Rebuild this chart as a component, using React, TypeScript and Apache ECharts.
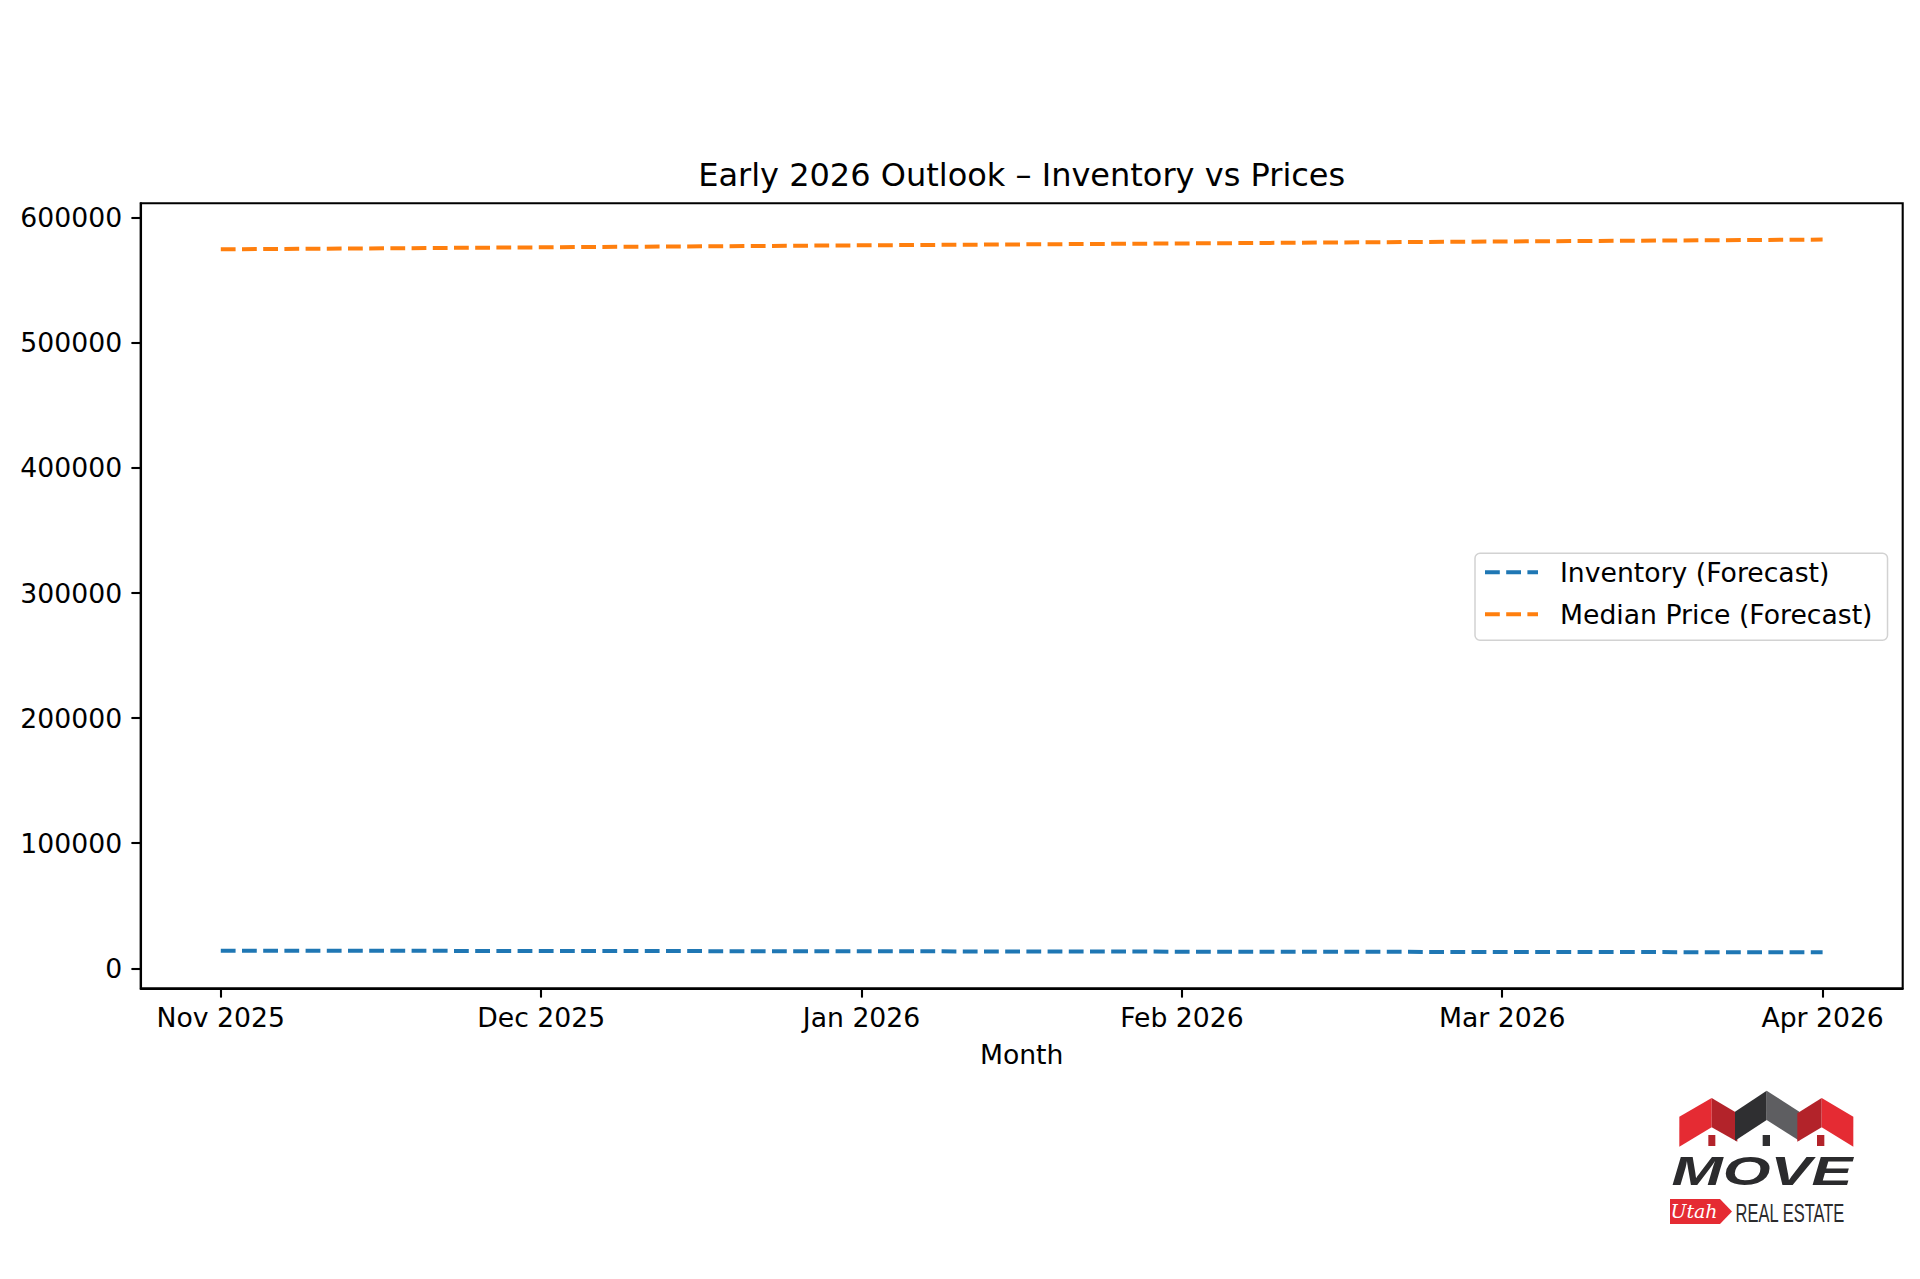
import React, { useEffect, useRef } from "react";
import * as echarts from "echarts";

const months = ["Nov 2025", "Dec 2025", "Jan 2026", "Feb 2026", "Mar 2026", "Apr 2026"];
const inventory = [14100, 13850, 13600, 13300, 13050, 12800];
const medianPrice = [574800, 576400, 578000, 579500, 581100, 582600];
const yTicks = [0, 100000, 200000, 300000, 400000, 500000, 600000];
const seriesNames = ["Inventory (Forecast)", "Median Price (Forecast)"];
const titleText = "Early 2026 Outlook – Inventory vs Prices";

const FONT = "DejaVu Sans";
const BLUE = "#1f77b4";
const ORANGE = "#ff7f0e";
const DASH_ICON = "path://M0,0h14.8v4h-14.8z M21.2,0h14.8v4h-14.8z M42.4,0h10.6v4h-10.6z";

function logoElements(): any[] {
  const ox = 1640;
  const oy = 1070;
  const p = (pts: number[][]) => pts.map(([x, y]) => [ox + x / 3, oy + y / 3]);
  const poly = (pts: number[][], fill: string) => ({
    type: "polygon",
    shape: { points: p(pts) },
    style: { fill },
    silent: true,
  });
  const rect = (x0: number, y0: number, x1: number, y1: number, fill: string) => ({
    type: "rect",
    shape: { x: ox + x0 / 3, y: oy + y0 / 3, width: (x1 - x0) / 3, height: (y1 - y0) / 3 },
    style: { fill },
    silent: true,
  });
  return [
    poly([[118, 140], [215, 84], [215, 172], [118, 230]], "#e52b33"),
    poly([[215, 84], [292, 130], [292, 215], [215, 172]], "#b3232a"),
    poly([[285, 125], [380, 62], [380, 150], [285, 212]], "#2f2f31"),
    poly([[380, 62], [478, 125], [478, 212], [380, 150]], "#5e5e61"),
    poly([[472, 130], [545, 84], [545, 172], [472, 215]], "#b3232a"),
    poly([[545, 84], [640, 140], [640, 230], [545, 172]], "#e52b33"),
    rect(205, 195, 226, 228, "#b3232a"),
    rect(368, 195, 390, 228, "#2f2f31"),
    rect(531, 195, 553, 228, "#b3232a"),
    {
      type: "text",
      x: 1762,
      y: 1171,
      scaleX: 1.5,
      silent: true,
      style: {
        text: "MOVE",
        fontFamily: "Liberation Sans",
        fontWeight: "bold",
        fontStyle: "italic",
        fontSize: 41,
        fill: "#2b2b2d",
        textAlign: "center",
        align: "center",
        textVerticalAlign: "middle",
        verticalAlign: "middle",
      },
    },
    {
      type: "polygon",
      shape: {
        points: [[1670, 1199], [1720, 1199], [1732, 1211.5], [1720, 1224], [1670, 1224]],
      },
      style: { fill: "#e52b33" },
      silent: true,
    },
    {
      type: "text",
      x: 1694,
      y: 1211,
      silent: true,
      style: {
        text: "Utah",
        fontFamily: "DejaVu Serif",
        fontStyle: "italic",
        fontSize: 19,
        fill: "#ffffff",
        textAlign: "center",
        align: "center",
        textVerticalAlign: "middle",
        verticalAlign: "middle",
      },
    },
    {
      type: "text",
      x: 1790,
      y: 1213,
      scaleX: 0.66,
      silent: true,
      style: {
        text: "REAL ESTATE",
        fontFamily: "Liberation Sans",
        fontSize: 25,
        fill: "#2b2b2d",
        textAlign: "center",
        align: "center",
        textVerticalAlign: "middle",
        verticalAlign: "middle",
      },
    },
  ];
}

export default function App() {
  const ref = useRef<HTMLDivElement>(null);

  useEffect(() => {
    if (!ref.current) return;
    const chart = echarts.init(ref.current, null, { renderer: "svg" });
    const dash = [14.8, 6.4];
    const option: any = {
      animation: false,
      backgroundColor: "#ffffff",
      textStyle: { fontFamily: FONT },
      title: {
        text: titleText,
        left: 1021.7,
        top: 159,
        padding: 0,
        textAlign: "center",
        textStyle: { fontFamily: FONT, fontSize: 32, fontWeight: "normal", color: "#000" },
      },
      grid: {
        left: 140.7,
        top: 203.3,
        right: 17.3,
        bottom: 290.7,
        show: true,
        borderColor: "#000",
        borderWidth: 2.1,
        backgroundColor: "transparent",
        containLabel: false,
      },
      legend: {
        left: 1475,
        top: 553.3,
        orient: "vertical",
        align: "left",
        padding: [4, 15, 11, 10],
        itemGap: 12,
        itemWidth: 53,
        itemHeight: 4,
        borderColor: "#d2d2d2",
        borderWidth: 1.5,
        borderRadius: 5,
        backgroundColor: "#ffffff",
        data: seriesNames.map((n) => ({ name: n, icon: DASH_ICON })),
        textStyle: {
          fontFamily: FONT,
          fontSize: 26.67,
          color: "#000",
          lineHeight: 30,
          padding: [0, 0, 0, 17],
        },
      },
      xAxis: {
        type: "value",
        min: -0.25,
        max: 5.25,
        name: "Month",
        nameLocation: "middle",
        nameGap: 53,
        nameTextStyle: { fontFamily: FONT, fontSize: 26.67, color: "#000" },
        axisLine: { show: true, onZero: false, lineStyle: { color: "#000", width: 2.1 } },
        axisTick: {
          show: true,
          length: 9.3,
          lineStyle: { color: "#000", width: 2.1 },
          customValues: months.map((_, i) => i),
        },
        axisLabel: {
          show: true,
          margin: 16,
          fontFamily: FONT,
          fontSize: 26.67,
          color: "#000",
          customValues: months.map((_, i) => i),
          formatter: (v: number) => months[Math.round(v)] ?? "",
        },
        splitLine: { show: false },
      },
      yAxis: {
        type: "value",
        min: -16000,
        max: 611600,
        axisLine: { show: true, onZero: false, lineStyle: { color: "#000", width: 2.1 } },
        axisTick: {
          show: true,
          length: 9.3,
          lineStyle: { color: "#000", width: 2.1 },
          customValues: yTicks,
        },
        axisLabel: {
          show: true,
          margin: 18.6,
          fontFamily: FONT,
          fontSize: 26.67,
          color: "#000",
          customValues: yTicks,
          formatter: (v: number) => String(v),
        },
        splitLine: { show: false },
      },
      series: [
        {
          name: seriesNames[0],
          type: "line",
          symbol: "none",
          data: inventory.map((v, i) => [i, v]),
          lineStyle: { color: BLUE, width: 4, type: dash, cap: "butt" },
          itemStyle: { color: BLUE },
        },
        {
          name: seriesNames[1],
          type: "line",
          symbol: "none",
          data: medianPrice.map((v, i) => [i, v]),
          lineStyle: { color: ORANGE, width: 4, type: dash, cap: "butt" },
          itemStyle: { color: ORANGE },
        },
      ],
      graphic: { elements: logoElements() },
    };
    chart.setOption(option);
    return () => {
      chart.dispose();
    };
  }, []);

  return (
    <div
      ref={ref}
      style={{ position: "absolute", left: 0, top: 0, width: "1920px", height: "1279px" }}
    />
  );
}
